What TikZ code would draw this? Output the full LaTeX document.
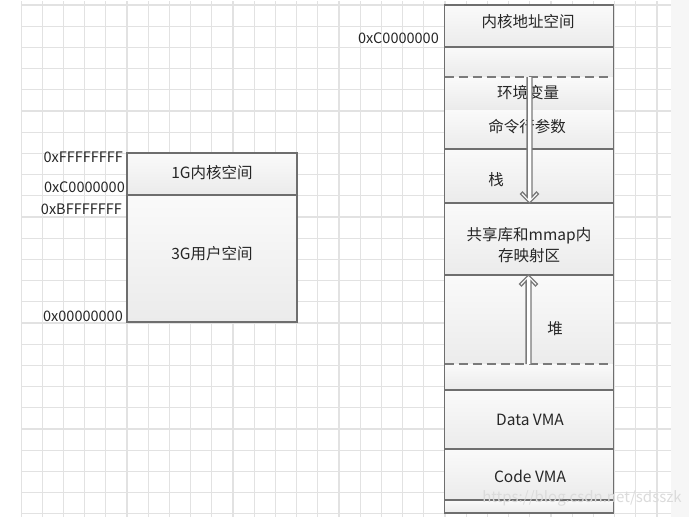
\documentclass[tikz,border=0pt]{standalone}
\usepackage{fontspec}
\setmainfont{Noto Sans CJK SC}
\usetikzlibrary{calc}
\definecolor{gridc}{HTML}{E2E2E2}
\definecolor{linec}{HTML}{6E6E6E}
\definecolor{dashc}{HTML}{7A7A7A}
\definecolor{cellt}{HTML}{FAFAFA}
\definecolor{cellb}{HTML}{EBEBEB}
\definecolor{sidec}{HTML}{F6F6F6}
\definecolor{textc}{HTML}{262626}
\newcommand\hollowarrow[3]{%
  \filldraw[arrowline] let \p1=(#1), \p2=(#2) in
    ({\x1-2.4pt},{\y1}) -- ({\x1-2.4pt},{\y2+(#3)*6pt}) -- ({\x2-7pt},{\y2+(#3)*11pt})
    -- ({\x2-9pt},{\y2+(#3)*9pt}) -- (\x2,\y2) -- ({\x2+9pt},{\y2+(#3)*9pt})
    -- ({\x2+7pt},{\y2+(#3)*11pt}) -- ({\x1+2.4pt},{\y2+(#3)*6pt}) -- ({\x1+2.4pt},{\y1});
}
\begin{document}
\begin{tikzpicture}[x=1pt,y=-1pt,
  gridline/.style={draw=gridc, line width=1.2pt},
  cell/.style={draw=none, top color=cellt, bottom color=cellb, inner sep=0pt, outer sep=0pt},
  sep/.style={draw=linec, line width=1.1pt},
  dsep/.style={draw=dashc, line width=1.6pt, dash pattern=on 9pt off 5pt},
  border/.style={draw=linec, line width=1.3pt},
  lbl/.style={font=\fontsize{15.5}{18}\selectfont, text=textc, inner sep=0pt},
  addr/.style={font=\fontsize{14.5}{17}\selectfont, text=textc, inner sep=0pt, anchor=east},
  arrowline/.style={draw=dashc, line width=1.3pt, fill=white},
  wm/.style={font=\fontsize{15}{18}\selectfont, text=gray!28, inner sep=0pt}
]
\useasboundingbox (0,0) rectangle (689,517);
\fill[white] (0,0) rectangle (689,517);
\fill[sidec] (671,0) rectangle (689,517);
% grid
\begin{scope}
\clip (21,1) rectangle (671,517);
\foreach \i in {0,...,30} \draw[gridline] ({21+21.2*\i},1) -- ({21+21.2*\i},517);
\foreach \j in {0,...,24} \draw[gridline] (21,{5+21.2*\j}) -- (671,{5+21.2*\j});
\end{scope}

% left box
\node[cell, minimum width=170pt, minimum height=42pt] (lk) at (212,174) {};
\node[cell, minimum width=170pt, minimum height=127pt] (lu) at (212,258.5) {};
\draw[sep] (lk.south west) -- (lk.south east);
\draw[border] (lk.north west) rectangle (lu.south east);
\node[lbl] (lkt) at (212,173) {1G内核空间};
\node[lbl] (lut) at (212,254) {3G用户空间};
\node[addr] (a1) at (123,157) {0xFFFFFFFF};
\node[addr] (a2) at (125,187) {0xC0000000};
\node[addr] (a3) at (122,209) {0xBFFFFFFF};
\node[addr] (a4) at (123,316) {0x00000000};

% right column
\def\rc{529}
\node[cell, minimum width=169pt, minimum height=42pt] (kern) at (\rc,26) {};
\node[cell, minimum width=169pt, minimum height=30pt] (gap1) at (\rc,62) {};
\node[cell, minimum width=169pt, minimum height=33pt] (env) at (\rc,93.5) {};
\node[cell, minimum width=169pt, minimum height=39pt] (arg) at (\rc,129.5) {};
\node[cell, minimum width=169pt, minimum height=54pt] (stk) at (\rc,176) {};
\node[cell, minimum width=169pt, minimum height=72pt] (mmap) at (\rc,239) {};
\node[cell, minimum width=169pt, minimum height=89pt] (heap) at (\rc,319.5) {};
\node[cell, minimum width=169pt, minimum height=26pt] (gap2) at (\rc,377) {};
\node[cell, minimum width=169pt, minimum height=59pt] (data) at (\rc,419.5) {};
\node[cell, minimum width=169pt, minimum height=51pt] (code) at (\rc,474.5) {};
\node[cell, minimum width=169pt, minimum height=13pt] (gap3) at (\rc,506.5) {};
\foreach \n in {kern,arg,stk,mmap,gap2,data,code}
  \draw[sep] (\n.south west) -- (\n.south east);
\draw[dsep] (gap1.south west) -- (gap1.south east);
\draw[dsep] (heap.south west) -- (heap.south east);
\draw[border] (kern.north west) rectangle (gap3.south east);

\node[lbl] (kt) at (528,22) {内核地址空间};
\node[lbl] (et) at (528,93) {环境变量};
\node[lbl] (at) at (527,127) {命令行参数};
\node[lbl] (st) at (496,180) {栈};
\node[lbl, align=center, font=\fontsize{15.5}{21}\selectfont] (mt) at (529,245) {共享库和mmap内\\存映射区};
\node[lbl] (ht) at (555,329) {堆};
\node[lbl] (dt) at (530,420) {Data VMA};
\node[lbl] (ct) at (530,476) {Code VMA};
\node[addr] (a5) at (439,38) {0xC0000000};

% arrows
\coordinate (d1) at (529.5,77);
\coordinate (d2) at (529.5,203);
\coordinate (u1) at (528.5,364);
\coordinate (u2) at (528.5,275);
\hollowarrow{d1}{d2}{1}
\hollowarrow{u1}{u2}{-1}

% watermark
\node[wm] (w) at (582,498) {https://blog.csdn.net/sdsszk};
\end{tikzpicture}
\end{document}
